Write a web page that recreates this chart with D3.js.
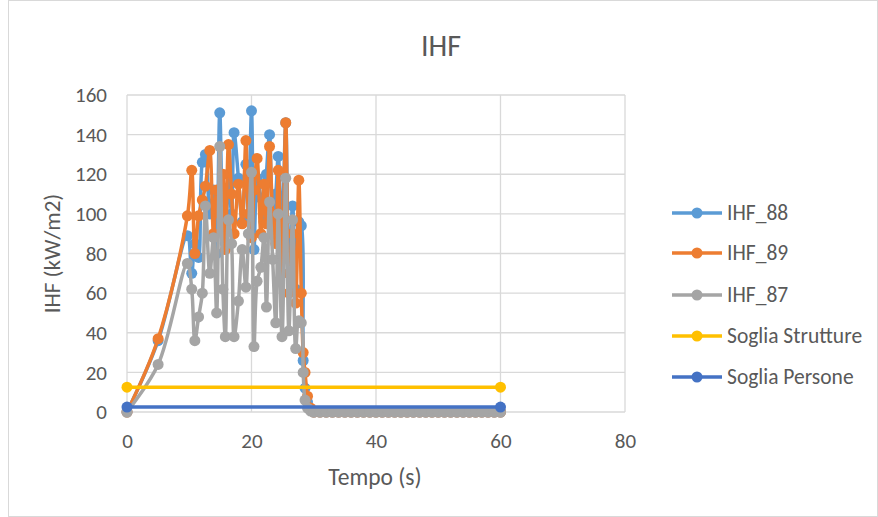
<!DOCTYPE html>
<html>
<head>
<meta charset="utf-8">
<script src="https://cdn.jsdelivr.net/npm/d3@7"></script>
<style>
  body { margin: 0; background: #fff; }
  text { font-family: Calibri, Carlito, "Liberation Sans", Arial, sans-serif; fill: #595959; }
</style>
</head>
<body>
<div id="chart"></div>
<script>
// time values (s)
var tempoStart = [0, 5];
var tempoPeak = [9.7, 10.4, 10.9, 11.5, 12.1, 12.6, 13.3, 13.9, 14.4, 14.9,
                 15.4, 15.8, 16.3, 16.8, 17.2, 17.9, 18.5, 19.1, 19.5, 20.0,
                 20.4, 20.9, 21.5, 22.0, 22.4, 22.9, 23.4, 23.9, 24.3, 24.9,
                 25.5, 26.0, 26.6, 27.1, 27.6, 28.0, 28.3, 28.6, 29.0, 29.5];
var tempoTail = [30, 31, 32, 33, 34, 35, 36, 37, 38, 39, 40, 41, 42, 43, 44, 45,
                 46, 47, 48, 49, 50, 51, 52, 53, 54, 55, 56, 57, 58, 59, 60];

// series values (kW/m2)
var ihf88Start = [0, 36];
var ihf88Peak = [89, 70, 85, 78, 126, 130, 100, 112, 80, 151,
                 95, 85, 120, 100, 141, 118, 96, 125, 100, 152,
                 82, 118, 108, 96, 120, 140, 96, 110, 129, 92,
                 146, 70, 104, 62, 96, 94, 26, 12, 5, 1];
var ihf89Start = [0, 37];
var ihf89Peak = [99, 122, 80, 99, 107, 114, 132, 90, 112, 100,
                 120, 82, 135, 110, 90, 115, 95, 137, 100, 88,
                 112, 128, 90, 115, 95, 134, 100, 85, 122, 70,
                 146, 60, 90, 55, 117, 60, 30, 20, 8, 2];
var ihf87Start = [0, 24];
var ihf87Peak = [75, 62, 36, 48, 60, 104, 70, 88, 50, 134,
                 62, 38, 97, 85, 38, 56, 82, 63, 90, 121,
                 33, 66, 73, 88, 53, 106, 77, 45, 100, 38,
                 118, 41, 97, 32, 46, 45, 20, 6, 2, 0.5];
var tailZero = [0, 0, 0, 0, 0, 0, 0, 0, 0, 0, 0, 0, 0, 0, 0, 0,
                0, 0, 0, 0, 0, 0, 0, 0, 0, 0, 0, 0, 0, 0, 0];

// thresholds
var sogliaTempo = [0, 60];
var sogliaStrutture = [12.5, 12.5];
var sogliaPersone = [2.5, 2.5];

var seriesNames = ["IHF_88", "IHF_89", "IHF_87", "Soglia Strutture", "Soglia Persone"];
var colors = ["#5B9BD5", "#ED7D31", "#A5A5A5", "#FFC000", "#4472C4"];

var xTicks = [0, 20, 40, 60, 80];
var yTicks = [0, 20, 40, 60, 80, 100, 120, 140, 160];

var tempo = tempoStart.concat(tempoPeak, tempoTail);
function zipSeries(t, v) {
  return t.map(function(d, i) { return {t: d, v: v[i]}; });
}
var series = [
  zipSeries(tempo, ihf88Start.concat(ihf88Peak, tailZero)),
  zipSeries(tempo, ihf89Start.concat(ihf89Peak, tailZero)),
  zipSeries(tempo, ihf87Start.concat(ihf87Peak, tailZero)),
  zipSeries(sogliaTempo, sogliaStrutture),
  zipSeries(sogliaTempo, sogliaPersone)
];

var W = 878, H = 517;
var plot = {left: 127, right: 625, top: 95, bottom: 412};

var svg = d3.select("#chart")
  .append("svg")
  .attr("width", W)
  .attr("height", H);

// chart border
svg.append("rect")
  .attr("x", 8.5).attr("y", 0.5)
  .attr("width", W - 9).attr("height", H - 1)
  .attr("fill", "#fff")
  .attr("stroke", "#d9d9d9");

var x = d3.scaleLinear().domain([0, 80]).range([plot.left, plot.right]);
var y = d3.scaleLinear().domain([0, 160]).range([plot.bottom, plot.top]);

// gridlines
svg.append("g")
  .selectAll("line.h")
  .data(yTicks)
  .enter()
  .append("line")
    .attr("x1", plot.left).attr("x2", plot.right)
    .attr("y1", function(d) { return y(d); })
    .attr("y2", function(d) { return y(d); })
    .attr("stroke", "#d9d9d9").attr("stroke-width", 1.3);
svg.append("g")
  .selectAll("line.v")
  .data(xTicks)
  .enter()
  .append("line")
    .attr("y1", plot.top).attr("y2", plot.bottom)
    .attr("x1", function(d) { return x(d); })
    .attr("x2", function(d) { return x(d); })
    .attr("stroke", "#d9d9d9").attr("stroke-width", 1.3);

// axes (labels only)
var xAxis = svg.append("g")
  .attr("transform", "translate(0," + plot.bottom + ")")
  .call(d3.axisBottom(x).tickValues(xTicks).tickSize(0).tickPadding(21));
var yAxis = svg.append("g")
  .attr("transform", "translate(" + plot.left + ",0)")
  .call(d3.axisLeft(y).tickValues(yTicks).tickSize(0).tickPadding(20));
[xAxis, yAxis].forEach(function(a) {
  a.select(".domain").remove();
  a.selectAll("text")
    .style("font-size", "21px")
    .style("fill", "#595959")
    .style("font-family", "Calibri, Carlito, 'Liberation Sans', Arial, sans-serif");
});

// lines and markers
var line = d3.line()
  .x(function(d) { return x(d.t); })
  .y(function(d) { return y(d.v); })
  .curve(d3.curveCatmullRom.alpha(0.5));

series.forEach(function(s, i) {
  var g = svg.append("g");
  g.append("path")
    .datum(s)
    .attr("d", line)
    .attr("fill", "none")
    .attr("stroke", colors[i])
    .attr("stroke-width", 3.5)
    .attr("stroke-linejoin", "round");
  g.selectAll("circle")
    .data(s)
    .enter()
    .append("circle")
      .attr("cx", function(d) { return x(d.t); })
      .attr("cy", function(d) { return y(d.v); })
      .attr("r", 5.5)
      .attr("fill", colors[i]);
});

// titles
svg.append("text")
  .attr("x", 441).attr("y", 56)
  .attr("text-anchor", "middle")
  .style("font-size", "30px")
  .text("IHF");
svg.append("text")
  .attr("x", 375).attr("y", 485)
  .attr("text-anchor", "middle")
  .style("font-size", "23.5px")
  .text("Tempo (s)");
svg.append("text")
  .attr("transform", "translate(60," + ((plot.top + plot.bottom) / 2) + ") rotate(-90)")
  .attr("text-anchor", "middle")
  .style("font-size", "23px")
  .text("IHF (kW/m2)");

// legend
var legendY = [213, 253, 295, 336, 377];
for (var i = 0; i < seriesNames.length; i++) {
  svg.append("line")
    .attr("x1", 672).attr("x2", 722)
    .attr("y1", legendY[i]).attr("y2", legendY[i])
    .attr("stroke", colors[i]).attr("stroke-width", 3.5);
  svg.append("circle")
    .attr("cx", 697).attr("cy", legendY[i])
    .attr("r", 5.5)
    .attr("fill", colors[i]);
  svg.append("text")
    .attr("x", 727).attr("y", legendY[i])
    .attr("dominant-baseline", "central")
    .style("font-size", "21.5px")
    .text(seriesNames[i]);
}
</script>
</body>
</html>
